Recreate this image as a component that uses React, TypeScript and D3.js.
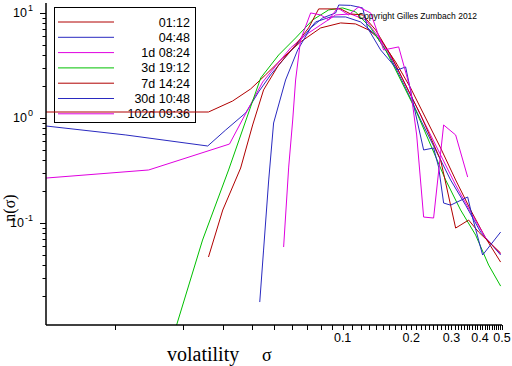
import React from 'react';
import * as d3 from 'd3';

// ── Data: empirical volatility densities n(σ) per time horizon ────────────────
type Pt = [number, number];

const horizons = ['01:12', '04:48', '1d 08:24', '3d 19:12', '7d 14:24', '30d 10:48', '102d 09:36'];
const colors = ['#b00000', '#2a2ac0', '#e000e0', '#00c000', '#b00000', '#2a2ac0', '#e000e0'];

const h0112: Pt[] = [
  [0.005, 1.14], [0.0118, 1.14], [0.0258, 1.14], [0.0329, 1.45], [0.0395, 1.89], [0.0459, 2.57],
  [0.0546, 3.73], [0.0654, 5.3], [0.0801, 7.2], [0.098, 8.03], [0.114, 7.86], [0.13, 6.89],
  [0.1468, 5.53], [0.1708, 3.41], [0.1987, 1.93], [0.2312, 1.0], [0.269, 0.518], [0.3131, 0.257],
  [0.3643, 0.133], [0.4238, 0.072], [0.493, 0.0425],
];
const h0448: Pt[] = [
  [0.005, 0.839], [0.0112, 0.689], [0.0256, 0.541], [0.0307, 0.769], [0.0376, 1.12], [0.0428, 1.77],
  [0.0483, 2.57], [0.0562, 3.81], [0.0654, 5.53], [0.0761, 8.21], [0.0886, 9.16], [0.1031, 9.16],
  [0.1199, 8.21], [0.1395, 6.17], [0.1624, 3.73], [0.1889, 1.93], [0.2198, 0.957], [0.2557, 0.496],
  [0.2976, 0.257], [0.3462, 0.148], [0.4029, 0.0821], [0.4932, 0.0496],
];
const h1d0824: Pt[] = [
  [0.005, 0.268], [0.0141, 0.32], [0.0319, 0.565], [0.0387, 1.245], [0.0446, 2.2], [0.0513, 3.2],
  [0.0591, 4.64], [0.0688, 6.17], [0.0801, 7.69], [0.0932, 9.57], [0.1084, 9.78], [0.1262, 8.58],
  [0.1468, 5.53], [0.1708, 3.2], [0.1987, 1.66], [0.2312, 0.858], [0.269, 0.444], [0.3131, 0.23],
  [0.3643, 0.127], [0.4238, 0.072], [0.4932, 0.0507],
];
const h3d1912: Pt[] = [
  [0.0187, 0.0107], [0.0243, 0.0689], [0.0316, 0.32], [0.0437, 2.4], [0.0524, 3.98], [0.0622, 5.78],
  [0.0739, 8.58], [0.0868, 10.68], [0.1, 11.16], [0.114, 10.22], [0.1327, 7.2], [0.1544, 4.44],
  [0.1797, 2.3], [0.209, 1.19], [0.2432, 0.553], [0.283, 0.257], [0.3292, 0.133], [0.3831, 0.0769],
  [0.4369, 0.0398], [0.4932, 0.0251],
];
const h7d1424: Pt[] = [
  [0.0258, 0.0475], [0.0298, 0.133], [0.0357, 0.334], [0.0403, 0.858], [0.045, 1.85], [0.0524, 3.2],
  [0.0622, 4.96], [0.0709, 7.2], [0.0785, 10.92], [0.098, 10.92], [0.1084, 9.78], [0.1224, 9.57],
  [0.1395, 6.89], [0.1624, 3.98], [0.1889, 2.06], [0.2198, 1.07], [0.269, 0.398], [0.3131, 0.0896],
  [0.357, 0.1068], [0.3948, 0.0821], [0.4932, 0.0518],
];
const h30d1048: Pt[] = [
  [0.0433, 0.0177], [0.045, 0.0553], [0.0474, 0.257], [0.0498, 0.896], [0.0562, 2.3], [0.0635, 4.44],
  [0.0724, 7.2], [0.0817, 8.96], [0.0932, 10.0], [0.0961, 11.9], [0.1084, 11.8], [0.1224, 11.16],
  [0.1287, 7.2], [0.1468, 4.44], [0.1743, 2.87], [0.1889, 3.06], [0.2048, 1.33], [0.2266, 0.496],
  [0.2506, 0.518], [0.2636, 0.341], [0.2773, 0.155], [0.2976, 0.148], [0.3535, 0.177], [0.3717, 0.1116],
  [0.4112, 0.0496], [0.4932, 0.0821],
];
const h102d0936: Pt[] = [
  [0.0551, 0.0591], [0.058, 0.341], [0.0604, 0.957], [0.0622, 2.3], [0.0654, 5.53], [0.0724, 10.0],
  [0.0801, 9.57], [0.0868, 8.58], [0.0951, 11.16], [0.1062, 9.57], [0.1175, 11.4], [0.1327, 10.0],
  [0.1513, 4.44], [0.1761, 4.75], [0.1987, 1.85], [0.2112, 0.689], [0.2266, 0.114], [0.2506, 0.1116],
  [0.2773, 0.858], [0.3131, 0.689], [0.3535, 0.274],
];

const series = [h0112, h0448, h1d0824, h3d1912, h7d1424, h30d1048, h102d0936];

const xTickLabels = [0.1, 0.2, 0.3, 0.4, 0.5];
const yTickLabels = [10, 1, 0.1];

// ── Layout ────────────────────────────────────────────────────────────────────
const W = 512;
const H = 366;
const X0 = 46, X1 = 502, Y0 = 325, Y1 = 5;
const SANS = '"Liberation Sans", Arial, sans-serif';
const SERIF = '"Liberation Serif", "Times New Roman", serif';

export default function App() {
  const x = d3.scaleLog().domain([0.005, 0.5]).range([X0, X1]);
  const y = d3.scaleLog().domain([0.0107, 11.9]).range([Y0, Y1]);
  const line = d3.line<Pt>().x(d => x(d[0])).y(d => y(d[1]));

  // minor ticks: every 0.01 from 0.01 to 0.5
  const xTicks = d3.range(1, 51).map(i => i / 100);
  const yTicks: number[] = [];
  [-2, -1, 0, 1].forEach(e => d3.range(1, 10).forEach(k => {
    const v = k * Math.pow(10, e);
    if (v >= 0.0107 && v <= 11.9) yTicks.push(v);
  }));

  const legendRows = horizons.map((h, i) => ({ h, c: colors[i], ly: 22 + i * 15.3 }));

  return (
    <div style={{ position: 'fixed', left: 0, top: 0 }}>
      <svg width={W} height={H} style={{ display: 'block', background: '#fff' }}>
        {/* legend box */}
        <rect x={54.5} y={7.5} width={141} height={115} fill="#fff" stroke="#000" strokeWidth={1} />
        {legendRows.map(r => (
          <g key={r.h}>
            <line x1={58} x2={114} y1={r.ly} y2={r.ly} stroke={r.c} strokeWidth={1} />
            <text x={190} y={r.ly + 4.5} textAnchor="end" fontFamily={SANS} fontSize={12.5} fill="#000">{r.h}</text>
          </g>
        ))}

        {/* curves */}
        {series.map((s, i) => (
          <path key={horizons[i]} d={line(s) || ''} fill="none" stroke={colors[i]} strokeWidth={1} />
        ))}

        {/* axes */}
        <line x1={X0} x2={X0} y1={Y1 - 2} y2={Y0} stroke="#000" strokeWidth={1.5} />
        <line x1={X0} x2={X1} y1={Y0} y2={Y0} stroke="#000" strokeWidth={1.5} />
        {xTicks.map(v => {
          const px = Math.round(x(v)) + 0.5;
          return <line key={'xt' + v} x1={px} x2={px} y1={Y0} y2={Y0 + 5} stroke="#000" strokeWidth={1} />;
        })}
        {yTicks.map(v => {
          const major = yTickLabels.includes(v);
          const py = Math.round(y(v)) + 0.5;
          return <line key={'yt' + v} x1={X0 - (major ? 6 : 3.5)} x2={X0} y1={py} y2={py} stroke="#000" strokeWidth={1} />;
        })}
        {xTickLabels.map(v => (
          <text key={'xl' + v} x={x(v)} y={342} textAnchor="middle" fontFamily={SANS} fontSize={12.5} fill="#000">{v}</text>
        ))}
        {yTickLabels.map(v => {
          const e = Math.round(Math.log10(v));
          return (
            <text key={'yl' + v} x={33} y={y(v) + 4} textAnchor="end" fontFamily={SANS} fontSize={12.5} fill="#000">
              10<tspan dx={1} dy={-6} fontSize={9}>{e}</tspan>
            </text>
          );
        })}

        {/* titles */}
        <text transform="translate(15,208) rotate(-90)" textAnchor="middle" fontFamily={SERIF} fontSize={16} fill="#000">n(σ)</text>
        <text x={167} y={361} fontFamily={SERIF} fontSize={20} fill="#000">volatility</text>
        <text x={262} y={361} fontFamily={SERIF} fontSize={18} fill="#000">σ</text>
        <text x={358} y={19} fontFamily={SANS} fontSize={8.5} fill="#000">Copyright Gilles Zumbach 2012</text>
      </svg>
    </div>
  );
}
